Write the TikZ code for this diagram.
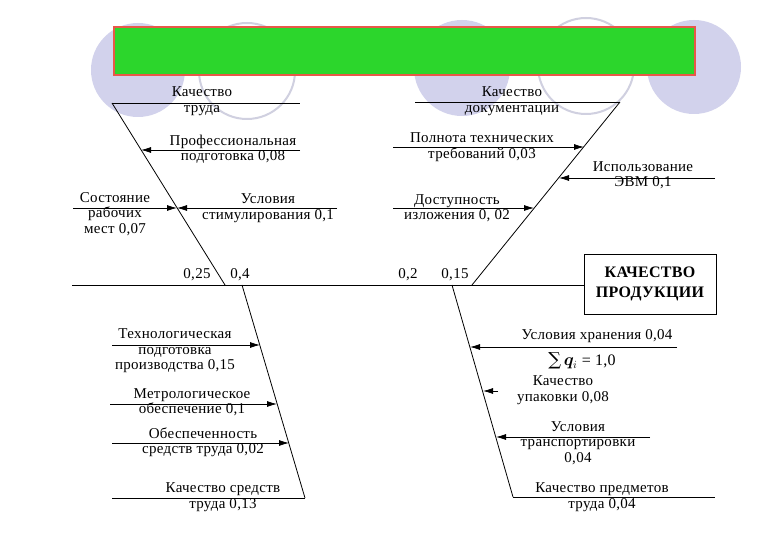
\documentclass[tikz,border=0pt]{standalone}
\usepackage{fontspec}
\usepackage{bm}
\setmainfont{Liberation Serif}[LetterSpace=2]
\newfontfamily\sigmafont{DejaVu Serif}
\usetikzlibrary{arrows.meta}
\definecolor{lav}{RGB}{210,210,236}
\definecolor{lavline}{RGB}{208,208,224}
\definecolor{grn}{RGB}{44,214,44}
\definecolor{redb}{RGB}{232,88,72}
\begin{document}
\begin{tikzpicture}[x=1pt,y=-1pt,
  font=\fontsize{15}{15.5}\selectfont,
  bone/.style={line width=0.8pt},
  arr/.style={line width=0.8pt,-{Latex[length=10pt,width=6pt]}},
  lbl/.style={align=center,inner sep=0pt}]
\useasboundingbox (0,0) rectangle (780,540);
\fill[white] (0,0) rectangle (780,540);
% decorative circles
\fill[lav] (138,70) circle (47);
\fill[lav] (462,68) circle (48);
\fill[lav] (694,67) circle (47);
\draw[lavline,line width=2pt,fill=white] (247,71) circle (48);
\draw[lavline,line width=2pt,fill=white] (586,66) circle (48);
% title bar
\node[draw=redb,line width=2pt,fill=grn,minimum width=581pt,minimum height=48pt,
  anchor=north west,inner sep=0pt] (title) at (113,26) {};
% result box
\node[draw,line width=0.9pt,minimum width=132pt,minimum height=60pt,inner sep=0pt,
  align=center,font=\fontsize{16}{20}\selectfont\bfseries] (box) at (650,284)
  {КАЧЕСТВО\\ПРОДУКЦИИ};
% spine
\coordinate (sp0) at (72,285);
\draw[bone] (sp0) -- (box.west |- sp0);
% bones
\coordinate (lu1) at (112,103); \coordinate (lu2) at (225,285);
\coordinate (ll1) at (242,285); \coordinate (ll2) at (305,498);
\coordinate (ru1) at (472,285); \coordinate (ru2) at (620,102);
\coordinate (rl1) at (452,285); \coordinate (rl2) at (513,497);
\draw[bone] (lu1) -- (lu2);
\draw[bone] (ll1) -- (ll2);
\draw[bone] (ru1) -- (ru2);
\draw[bone] (rl1) -- (rl2);
% end lines
\coordinate (tlE) at (300,103);
\coordinate (trS) at (415,102);
\coordinate (blS) at (112,498);
\coordinate (brE) at (715,497);
\draw[bone] (lu1) -- (tlE);
\draw[bone] (trS) -- (ru2);
\draw[bone] (blS) -- (ll2);
\draw[bone] (rl2) -- (brE);
% arrow tails and tips
\coordinate (a1s) at (300,150); \coordinate (a1t) at (141,150);
\coordinate (a2s) at (337,208); \coordinate (a2t) at (177,208);
\coordinate (a3s) at (73,208);  \coordinate (a3t) at (177,208);
\coordinate (b1s) at (393,147); \coordinate (b1t) at (584,147);
\coordinate (b2s) at (715,178); \coordinate (b2t) at (559,178);
\coordinate (b3s) at (393,208); \coordinate (b3t) at (534,208);
\coordinate (c1s) at (112,345); \coordinate (c1t) at (260,345);
\coordinate (c2s) at (110,404); \coordinate (c2t) at (277,404);
\coordinate (c3s) at (112,443); \coordinate (c3t) at (289,443);
\coordinate (d1s) at (677,347); \coordinate (d1t) at (470,347);
\coordinate (d2s) at (498,391); \coordinate (d2t) at (483,391);
\coordinate (d3s) at (650,437); \coordinate (d3t) at (496,437);
\foreach \p in {a1,a2,a3,b1,b2,b3,c1,c2,c3,d1,d2,d3}
  \draw[arr] (\p s) -- (\p t);
% labels
\node[lbl] (t1) at (202,101) {Качество\\труда};
\node[lbl] (t2) at (233,149) {Профессиональная\\подготовка 0,08};
\node[lbl] (t3) at (268,208) {Условия\\стимулирования 0,1};
\node[lbl] (t4) at (115,214) {Состояние\\рабочих\\мест 0,07};
\node[lbl] (t5) at (512,101) {Качество\\документации};
\node[lbl] (t6) at (482,147) {Полнота технических\\требований 0,03};
\node[lbl] (t7) at (643,175) {Использование\\ЭВМ 0,1};
\node[lbl] (t8) at (457,208) {Доступность\\изложения 0, 02};
\node[lbl] (w1) at (197,275) {0,25};
\node[lbl] (w2) at (240,275) {0,4};
\node[lbl] (w3) at (408,275) {0,2};
\node[lbl] (w4) at (455,275) {0,15};
\node[lbl] (t9) at (175,351) {Технологическая\\подготовка\\производства 0,15};
\node[lbl] (t10) at (192,402) {Метрологическое\\обеспечение 0,1};
\node[lbl] (t11) at (203,442) {Обеспеченность\\средств труда 0,02};
\node[lbl] (t12) at (223,497) {Качество средств\\труда 0,13};
\node[lbl] (t13) at (597,336) {Условия хранения 0,04};
\node[lbl,font=\fontsize{16}{18}\selectfont] (t14) at (582,361)
  {{\sigmafont\fontsize{18}{18}\selectfont ∑}\,$\bm{q}_i$ = 1,0};
\node[lbl] (t15) at (563,390) {Качество\\упаковки 0,08};
\node[lbl] (t16) at (578,443) {Условия\\транспортировки\\0,04};
\node[lbl] (t17) at (602,497) {Качество предметов\\труда 0,04};
\end{tikzpicture}
\end{document}
